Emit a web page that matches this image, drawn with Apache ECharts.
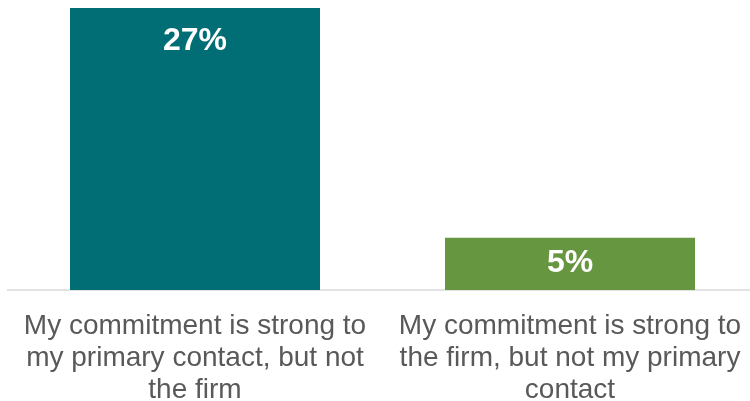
<!DOCTYPE html>
<html>
<head>
<meta charset="utf-8">
<script src="https://cdn.jsdelivr.net/npm/echarts@6/dist/echarts.min.js"></script>
<style>
  html, body { margin: 0; padding: 0; background: #ffffff; }
  #chart { width: 750px; height: 401px; }
</style>
</head>
<body>
<div id="chart"></div>
<script>
// Commitment split: share of respondents per statement
const categories = [
  'My commitment is strong to\nmy primary contact, but not\nthe firm',
  'My commitment is strong to\nthe firm, but not my primary\ncontact'
];
const values = [27, 5];
const barColors = ['#016E75', '#679640'];
const labelOffsets = [17, 9];

const chart = echarts.init(document.getElementById('chart'), null, { renderer: 'canvas' });

chart.setOption({
  animation: false,
  grid: {
    left: 7.5, width: 750, top: 8, bottom: 111,
    containLabel: false,
    outerBoundsMode: 'none'
  },
  xAxis: {
    type: 'category',
    data: categories,
    axisLine: { show: true, lineStyle: { color: '#D9D9D9', width: 1.5 } },
    axisTick: { show: false },
    axisLabel: {
      interval: 0,
      margin: 20,
      color: '#595959',
      fontFamily: 'Liberation Sans, Arial, sans-serif',
      fontSize: 28,
      lineHeight: 32
    }
  },
  yAxis: {
    type: 'value',
    min: 0,
    max: 27,
    show: false,
    splitLine: { show: false }
  },
  series: [{
    type: 'bar',
    barWidth: 250,
    data: values.map((v, i) => ({
      value: v,
      itemStyle: { color: barColors[i] },
      label: { distance: labelOffsets[i] }
    })),
    label: {
      show: true,
      position: 'insideTop',
      formatter: '{c}%',
      color: '#ffffff',
      fontWeight: 'bold',
      fontFamily: 'Liberation Sans, Arial, sans-serif',
      fontSize: 32
    }
  }]
});
</script>
</body>
</html>
